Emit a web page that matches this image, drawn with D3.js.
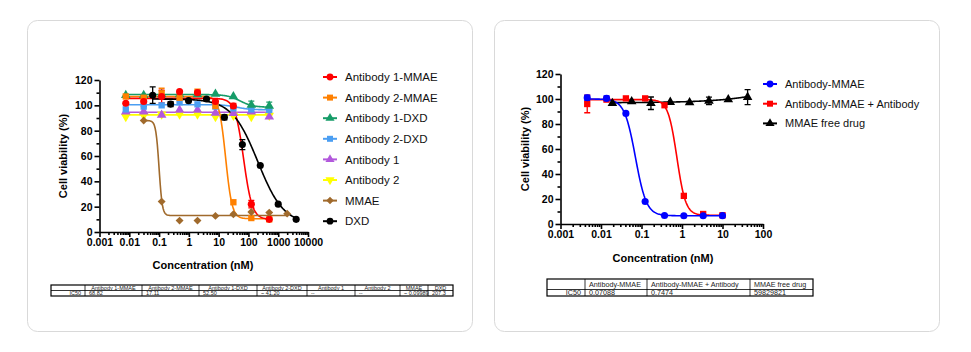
<!DOCTYPE html>
<html>
<head>
<meta charset="utf-8">
<script src="https://cdn.jsdelivr.net/npm/d3@7"></script>
<style>
body { margin: 0; background: #fff; }
svg { font-family: "Liberation Sans", Arial, sans-serif; }
</style>
</head>
<body>
<svg id="chart" width="971" height="352"></svg>
<script>
// ---- left panel data (4-fold dilutions, nM) ----
var concAb = [0.00763, 0.0305, 0.122, 0.488, 1.95, 7.81, 31.25, 125, 500];
var concMMAE = [0.0305, 0.122, 0.488, 1.95, 7.81, 31.25, 125, 500, 2000];
var concDXD = [0.061, 0.244, 0.977, 3.91, 15.6, 62.5, 250, 1000, 4000];

var ab1MMAE = [101.6, 103, 106.9, 110.8, 110, 103, 99.5, 22, 10];
var ab1MMAEsd = [0, 4, 5, 0, 0, 0, 2, 3, 0];
var ab2MMAE = [107, 106, 109.5, 106, 110.8, 99.5, 23.5, 11, 10];
var ab2MMAEsd = [0, 0, 4, 0, 0, 0, 0, 0, 0];
var ab1DXD = [108, 108, 108.5, 108.5, 108.5, 109, 106.9, 100.3, 99.5];
var ab1DXDsd = [0, 0, 0, 0, 0, 0, 0, 3, 3];
var ab2DXD = [96.8, 99, 100, 102.4, 100.8, 99, 97.6, 96.8, 96.3];
var ab2DXDsd = [0, 0, 0, 0, 0, 0, 0, 0, 0];
var ab1 = [95, 95, 92.3, 96.3, 96.3, 94, 93.7, 95, 91];
var ab1sd = [0, 0, 0, 0, 0, 0, 0, 0, 0];
var ab2 = [91, 92, 93, 93, 93, 91, 92, 91, 92];
var ab2sd = [0, 0, 0, 0, 0, 0, 0, 0, 0];
var mmae = [88, 24, 9, 9, 12.7, 14, 15.8, 15.3, 14.5];
var mmaesd = [0, 0, 0, 0, 0, 0, 0, 0, 0];
var dxd = [108, 101, 103.7, 105, 90.5, 69, 52.5, 22, 10];
var dxdsd = [6.5, 2, 0, 0, 2, 4, 0, 0, 0];

// fitted curves: [low plateau, high plateau, IC50, hill]
var fitAb1MMAE = [105.5, 10, 68.82, 3];
var fitAb2MMAE = [107, 10.5, 17.11, 4];
var fitAb1DXD = [108.5, 98.5, 52.5, 2];
var fitAb2DXD = [100.5, 96.5, 41.2, 2];
var fitAb1 = [94.5, 94.5, 1, 1];
var fitAb2 = [92.5, 92.5, 1, 1];
var fitMMAE = [88, 13, 0.0999, 8];
var fitDXD = [105, 6, 207.3, 1];

var leftNames = ["Antibody 1-MMAE", "Antibody 2-MMAE", "Antibody 1-DXD", "Antibody 2-DXD", "Antibody 1", "Antibody 2", "MMAE", "DXD"];
var leftColors = ["#ff0000", "#ff8000", "#169c68", "#4b9ef2", "#b258dc", "#ffff00", "#a06a2c", "#000000"];
var leftSymbols = ["circle", "square", "triangle", "square", "triangle", "down", "diamond", "circle"];

var leftHeader = ["", "Antibody 1-MMAE", "Antibody 2-MMAE", "Antibody 1-DXD", "Antibody 2-DXD", "Antibody 1", "Antibody 2", "MMAE", "DXD"];
var leftIC50 = ["IC50", "68.82", "17.11", "52.50", "~ 41.20", "--", "--", "~ 0.09989", "207.3"];

// ---- right panel data (3-fold dilutions, nM) ----
var concADC = [0.00457, 0.0137, 0.0412, 0.123, 0.370, 1.11, 3.33, 10];
var concFree = [0.0191, 0.0572, 0.171, 0.514, 1.54, 4.63, 13.9, 41.67];

var adc = [101, 100.5, 88.5, 18, 6.8, 6.6, 6.6, 6.7];
var adcsd = [2, 2, 0, 0, 0, 0, 0, 0];
var adcAb = [96, 99.5, 100.5, 100.5, 95, 22.5, 8, 7];
var adcAbsd = [7, 0, 0, 0, 0, 0, 0, 0];
var freeDrug = [96.6, 98, 96.6, 97.5, 97.2, 98.5, 99.6, 101.5];
var freeDrugsd = [0, 0, 5, 0, 0, 3, 0, 6];

var fitADC = [100, 6.6, 0.07088, 3.2];
var fitADCAb = [99.5, 7, 0.7474, 4];
var fitFree = [97, 6097, 59829821, 0.5];

var rightNames = ["Antibody-MMAE", "Antibody-MMAE + Antibody", "MMAE free drug"];
var rightColors = ["#0000ff", "#ff0000", "#000000"];
var rightSymbols = ["circle", "square", "triangle"];

var rightHeader = ["", "Antibody-MMAE", "Antibody-MMAE + Antibody", "MMAE free drug"];
var rightIC50 = ["IC50", "0.07088", "0.7474", "59829821"];

var yTicks = [0, 20, 40, 60, 80, 100, 120];

// ---- helpers ----
var svg = d3.select("#chart");

function fourPL(p, x) {
    return p[1] + (p[0] - p[1]) / (1 + Math.pow(x / p[2], p[3]));
}

function symbolPath(kind, size) {
    var t = { circle: d3.symbolCircle, square: d3.symbolSquare, triangle: d3.symbolTriangle, down: d3.symbolTriangle, diamond: d3.symbolDiamond2 }[kind];
    return d3.symbol().type(t).size(size)();
}

function drawAxes(g, x, y, decades, labels) {
    var x0 = x.range()[0], y0 = y.range()[0];
    // y axis with minor ticks
    g.append("g").attr("transform", `translate(${x0},0)`)
        .call(d3.axisLeft(y).tickValues(d3.range(10, 120, 20)).tickSize(3).tickFormat(""))
        .call(a => a.select(".domain").remove());
    g.append("g").attr("transform", `translate(${x0},0)`)
        .call(d3.axisLeft(y).tickValues(yTicks).tickSize(5).tickPadding(2).tickSizeOuter(0));
    // x axis with log minor ticks
    var minor = [];
    decades.slice(0, -1).forEach(d => { for (var k = 2; k < 10; k++) minor.push(d * k); });
    g.append("g").attr("transform", `translate(0,${y0})`)
        .call(d3.axisBottom(x).tickValues(minor).tickSize(3).tickFormat(""))
        .call(a => a.select(".domain").remove());
    g.append("g").attr("transform", `translate(0,${y0})`)
        .call(d3.axisBottom(x).tickValues(decades).tickSize(5).tickPadding(2).tickSizeOuter(0)
            .tickFormat((d, i) => labels[i]));
    g.selectAll(".domain, .tick line").attr("stroke", "#000").attr("stroke-width", 1.6);
    g.selectAll(".tick text").attr("fill", "#000").style("font-size", "10.5px").style("font-weight", "bold")
        .style("font-family", "'Liberation Sans', Arial, sans-serif");
}

function drawSeries(g, x, y, conc, vals, sd, fit, color) {
    var lo = d3.min(conc), hi = d3.max(conc);
    var pts = d3.range(0, 201).map(i => lo * Math.pow(hi / lo, i / 200));
    g.append("path")
        .attr("d", d3.line().x(d => x(d)).y(d => y(fourPL(fit, d)))(pts))
        .attr("fill", "none").attr("stroke", color).attr("stroke-width", 1.6);
    conc.forEach((c, i) => {
        if (sd[i] > 0) {
            var cx = x(c);
            g.append("path")
                .attr("d", `M${cx},${y(vals[i] - sd[i])}V${y(vals[i] + sd[i])}M${cx - 3},${y(vals[i] + sd[i])}H${cx + 3}M${cx - 3},${y(vals[i] - sd[i])}H${cx + 3}`)
                .attr("stroke", color).attr("stroke-width", 1.3).attr("fill", "none");
        }
    });
}

function drawMarkers(g, x, y, conc, vals, color, sym, msize) {
    g.selectAll(null).data(conc).enter().append("path")
        .attr("d", symbolPath(sym, msize))
        .attr("transform", (d, i) => `translate(${x(d)},${y(vals[i])})` + (sym === "down" ? " rotate(180)" : ""))
        .attr("fill", color);
}

function drawLegend(g, x0, y0, step, names, colors, syms, fsize) {
    names.forEach((n, i) => {
        var yy = y0 + i * step;
        g.append("line").attr("x1", x0 - 7).attr("x2", x0 + 7).attr("y1", yy).attr("y2", yy)
            .attr("stroke", colors[i]).attr("stroke-width", 2);
        g.append("path").attr("d", symbolPath(syms[i], 36))
            .attr("transform", `translate(${x0},${yy})` + (syms[i] === "down" ? " rotate(180)" : ""))
            .attr("fill", colors[i]);
        g.append("text").attr("x", x0 + 15).attr("y", yy).attr("dy", "0.36em")
            .style("font-size", fsize + "px").attr("fill", "#111").text(n);
    });
}

function drawTable(g, x0, y0, colW, rowH, header, row, fsize, headAlign) {
    var xs = [x0];
    colW.forEach(w => xs.push(xs[xs.length - 1] + w));
    var ys = [y0, y0 + rowH[0], y0 + rowH[0] + rowH[1]];
    var W = xs[xs.length - 1] - x0, H = ys[2] - y0;
    xs.slice(1, -1).forEach(xx => g.append("line").attr("x1", xx).attr("x2", xx).attr("y1", y0).attr("y2", ys[2]).attr("stroke", "#000").attr("stroke-width", 0.8));
    g.append("line").attr("x1", x0).attr("x2", x0 + W).attr("y1", ys[1]).attr("y2", ys[1]).attr("stroke", "#000").attr("stroke-width", 0.8);
    g.append("rect").attr("x", x0).attr("y", y0).attr("width", W).attr("height", H)
        .attr("fill", "none").attr("stroke", "#000").attr("stroke-width", 1.2);
    [header, row].forEach((cells, r) => {
        cells.forEach((t, c) => {
            var cy = (ys[r] + ys[r + 1]) / 2;
            var tx, anchor;
            if (c === 0) { tx = xs[1] - 4; anchor = "end"; }
            else if (r === 0 && headAlign === "middle") { tx = (xs[c] + xs[c + 1]) / 2; anchor = "middle"; }
            else { tx = xs[c] + 4; anchor = "start"; }
            g.append("text").attr("x", tx).attr("y", cy).attr("dy", "0.36em")
                .attr("text-anchor", anchor).style("font-size", fsize + "px").attr("fill", "#222").text(t);
        });
    });
}

function axisTitles(g, cx, ty, lx, ly) {
    g.append("text").attr("x", cx).attr("y", ty).attr("text-anchor", "middle")
        .style("font-size", "11px").style("font-weight", "bold").text("Concentration (nM)");
    g.append("text").attr("transform", `translate(${lx},${ly}) rotate(-90)`).attr("text-anchor", "middle")
        .attr("dy", "0.36em").style("font-size", "11px").style("font-weight", "bold").text("Cell viability (%)");
}

// ---- cards ----
svg.append("rect").attr("x", 27.5).attr("y", 20.5).attr("width", 445).attr("height", 311).attr("rx", 10)
    .attr("fill", "#fff").attr("stroke", "#d9d9d9");
svg.append("rect").attr("x", 494.5).attr("y", 20.5).attr("width", 445).attr("height", 311).attr("rx", 10)
    .attr("fill", "#fff").attr("stroke", "#d9d9d9");

// ---- left chart ----
var gl = svg.append("g");
var xl = d3.scaleLog().domain([0.001, 10000]).range([99.5, 308]);
var yl = d3.scaleLinear().domain([0, 120]).range([232, 80]);
drawAxes(gl, xl, yl, [0.001, 0.01, 0.1, 1, 10, 100, 1000, 10000],
    ["0.001", "0.01", "0.1", "1", "10", "100", "1000", "10000"]);
axisTitles(gl, 203, 269, 63, 156);

var leftConc = [concAb, concAb, concAb, concAb, concAb, concAb, concMMAE, concDXD];
var leftVals = [ab1MMAE, ab2MMAE, ab1DXD, ab2DXD, ab1, ab2, mmae, dxd];
var leftSd = [ab1MMAEsd, ab2MMAEsd, ab1DXDsd, ab2DXDsd, ab1sd, ab2sd, mmaesd, dxdsd];
var leftFits = [fitAb1MMAE, fitAb2MMAE, fitAb1DXD, fitAb2DXD, fitAb1, fitAb2, fitMMAE, fitDXD];
var order = [5, 4, 3, 2, 1, 0, 6, 7];
order.forEach(i => drawSeries(gl, xl, yl, leftConc[i], leftVals[i], leftSd[i], leftFits[i], leftColors[i]));
order.forEach(i => drawMarkers(gl, xl, yl, leftConc[i], leftVals[i], leftColors[i], leftSymbols[i], 40));

drawLegend(gl, 330, 77, 20.6, leftNames, leftColors, leftSymbols, 11.5);
drawTable(gl, 51, 285, [34, 57, 57, 58, 50, 48, 45, 28, 25], [5.5, 5.5], leftHeader, leftIC50, 5.5, "middle");

// ---- right chart ----
var gr = svg.append("g");
var xr = d3.scaleLog().domain([0.001, 100]).range([560.5, 763]);
var yr = d3.scaleLinear().domain([0, 120]).range([224, 74]);
drawAxes(gr, xr, yr, [0.001, 0.01, 0.1, 1, 10, 100], ["0.001", "0.01", "0.1", "1", "10", "100"]);
axisTitles(gr, 663, 262, 525, 149);

var rightConc = [concADC, concADC, concFree];
var rightVals = [adc, adcAb, freeDrug];
var rightSd = [adcsd, adcAbsd, freeDrugsd];
var rightFits = [fitADC, fitADCAb, fitFree];
[2, 1, 0].forEach(i => drawSeries(gr, xr, yr, rightConc[i], rightVals[i], rightSd[i], rightFits[i], rightColors[i]));
[2, 1, 0].forEach(i => drawMarkers(gr, xr, yr, rightConc[i], rightVals[i], rightColors[i], rightSymbols[i], 40));

drawLegend(gr, 770, 84, 19.7, rightNames, rightColors, rightSymbols, 11);
drawTable(gr, 547, 279, [38, 62, 103, 63], [10.5, 6.5], rightHeader, rightIC50, 7.2, "start");
</script>
</body>
</html>
